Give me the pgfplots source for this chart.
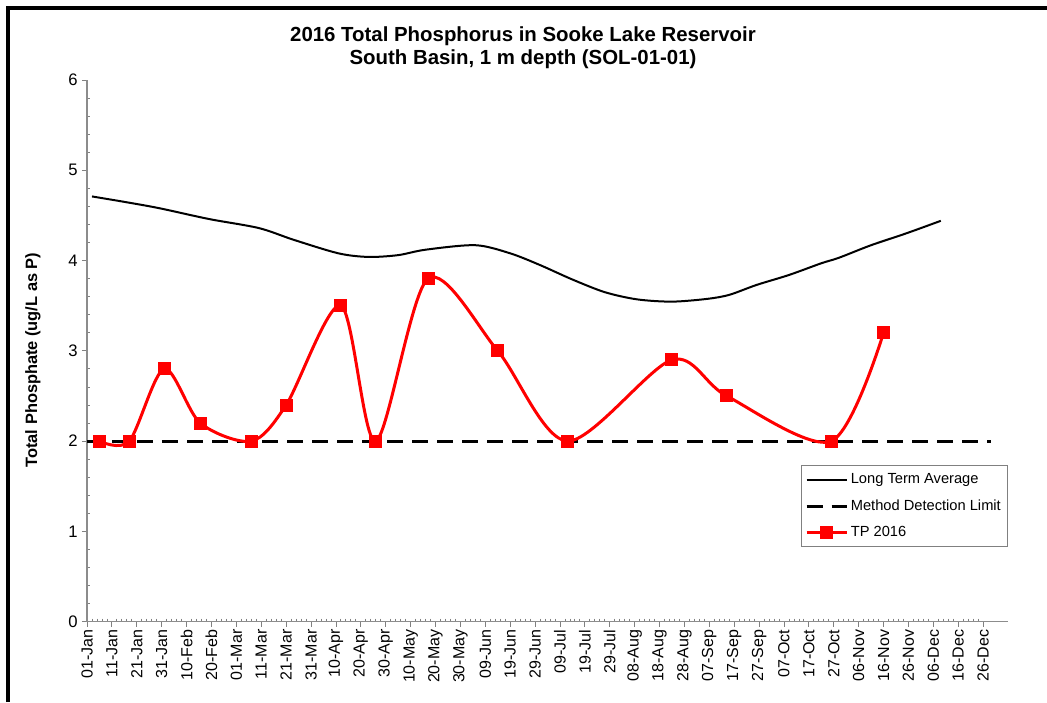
\documentclass[border=0pt]{standalone}
\usepackage{fontspec}
\setmainfont{Liberation Sans}
\usepackage{pgfplots}
\pgfplotsset{compat=1.18}
\begin{document}
\begin{tikzpicture}
\path[use as bounding box] (-65.25pt,-60.23pt) rectangle (720pt,466.28pt);
\begin{axis}[
  at={(0,0)}, anchor=origin,
  scale only axis, width=690.75pt, height=406.3pt,
  xmin=0, xmax=370, ymin=0, ymax=6,
  axis x line=bottom, axis y line=left,
  axis line style={-, draw=gray!90, line width=0.9pt},
  /pgf/number format/assume math mode=true,
  xtick={0,10,...,360},
  xticklabels={01-Jan,11-Jan,21-Jan,31-Jan,10-Feb,20-Feb,01-Mar,11-Mar,21-Mar,31-Mar,10-Apr,20-Apr,30-Apr,10-May,20-May,30-May,09-Jun,19-Jun,29-Jun,09-Jul,19-Jul,29-Jul,08-Aug,18-Aug,28-Aug,07-Sep,17-Sep,27-Sep,07-Oct,17-Oct,27-Oct,06-Nov,16-Nov,26-Nov,06-Dec,16-Dec,26-Dec},
  minor x tick num=4,
  ytick={0,1,...,6}, minor y tick num=4,
  tick align=outside,
  major tick length=3.75pt, minor tick length=-2.25pt,
  tick style={draw=gray, line width=0.6pt},
  x tick label style={rotate=90, anchor=east, font=\fontsize{12}{14}\selectfont, inner sep=2pt},
  y tick label style={font=\fontsize{12.5}{14}\selectfont, inner sep=3pt},
  ylabel={Total Phosphate (ug/L as P)},
  every axis y label/.style={at={(rel axis cs:0,0.483)}, xshift=-40.5pt, rotate=90, anchor=center, font=\bfseries\fontsize{12.3}{14}\selectfont},
  legend style={at={(1,0.289)}, anchor=north east, draw=gray, line width=0.75pt,
    font=\fontsize{11}{13}\selectfont, row sep=6.5pt, inner xsep=3pt, inner ysep=4pt},
  legend cell align=left,
  legend image code/.code={\draw[mark repeat=2,mark phase=2,#1] plot coordinates {(0pt,0pt) (15pt,0pt) (30pt,0pt)};},
]
\addplot[black, line width=1.5pt, smooth] coordinates {
(2,4.71) (15,4.65) (29,4.58) (49,4.46) (69,4.36) (83,4.23) (101,4.08) (113,4.04) (125,4.06) (136,4.12) (156,4.17) (170,4.08) (182,3.95) (195,3.79) (208,3.65) (221,3.57) (235,3.545) (249,3.575) (258,3.62) (269,3.73) (282,3.84) (295,3.97) (302,4.03) (315,4.17) (329,4.30) (343,4.44)};
\addlegendentry{Long Term Average}
\addplot[black, line width=2.25pt, dash pattern=on 12pt off 6.75pt] coordinates {(0,2) (363,2)};
\addlegendentry{Method Detection Limit}
\addplot[red, line width=2.25pt, smooth, mark=square*, mark size=4.5pt, mark options={solid, fill=red, line width=0pt}] coordinates {
(5,2.0) (17,2.0) (31,2.8) (45.5,2.2) (66,2.0) (80,2.4) (102,3.5) (116,2.0) (137,3.8) (165,3.0) (193,2.0) (235,2.9) (257,2.5) (299,2.0) (320,3.2)};
\addlegendentry{TP 2016}
\end{axis}
\node[font=\bfseries\fontsize{15.3}{17.25}\selectfont, align=center] at (327pt,430.5pt) {2016 Total Phosphorus in Sooke Lake Reservoir\\South Basin, 1 m depth (SOL-01-01)};
\draw[line width=3pt] (-59.6pt,-60.23pt) -- (-59.6pt,460.3pt) -- (720pt,460.3pt);
\end{tikzpicture}
\end{document}
